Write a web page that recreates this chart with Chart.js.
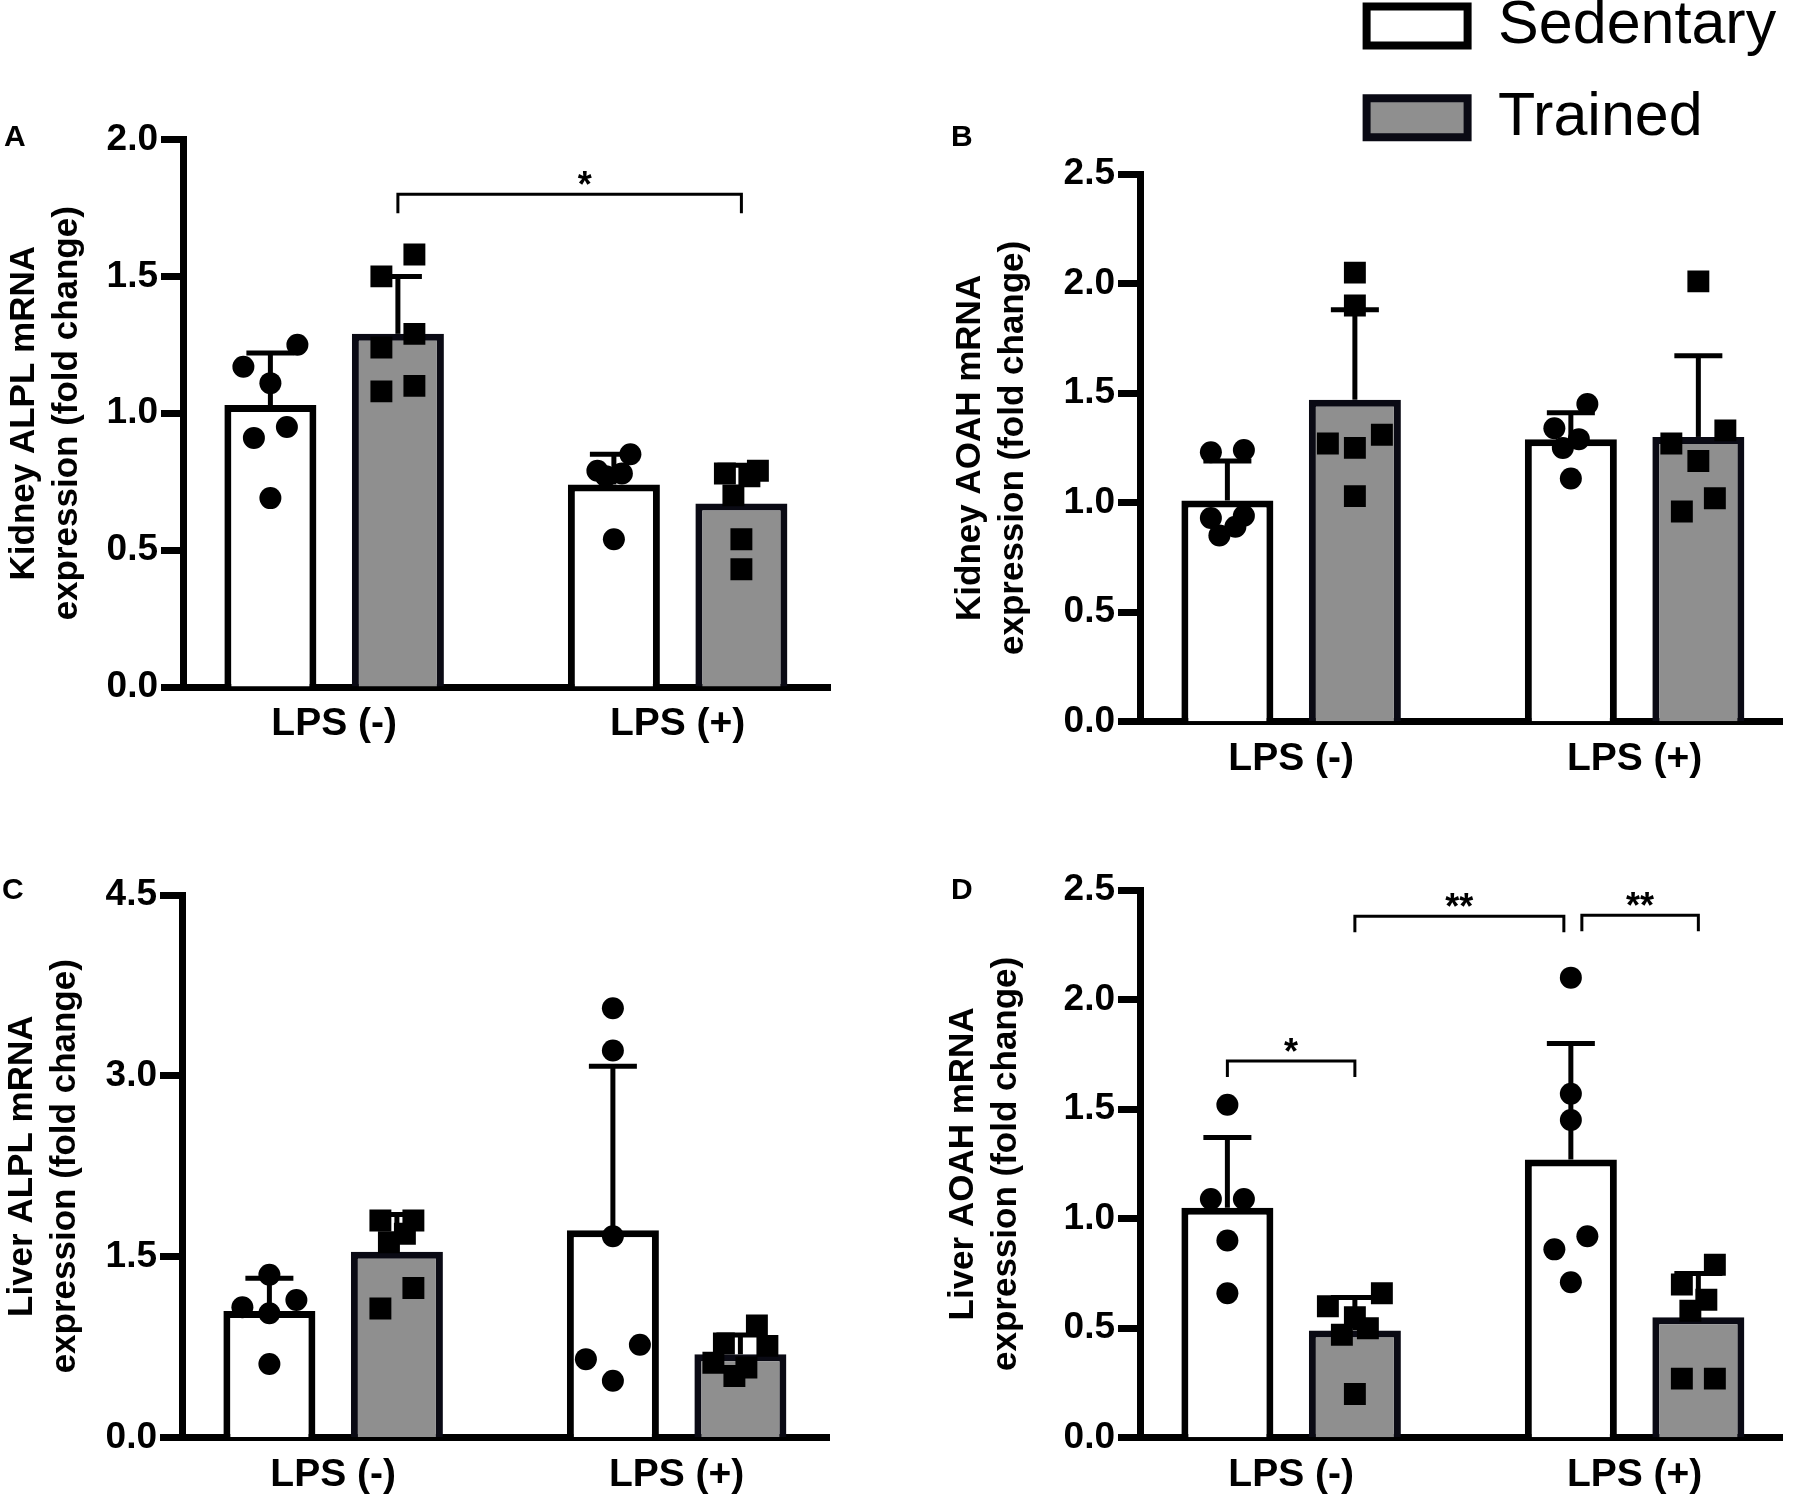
<!DOCTYPE html>
<html>
<head>
<meta charset="utf-8">
<script src="https://cdn.jsdelivr.net/npm/chart.js@4.4.1/dist/chart.umd.min.js"></script>
<style>
  html, body { margin: 0; padding: 0; background: #ffffff; width: 1801px; height: 1494px; overflow: hidden; }
  .panel { position: absolute; }
  #legendBox { pointer-events: none; }
</style>
</head>
<body>
<div class="panel" style="left:0px;top:100px;width:860px;height:660px"><canvas id="cA"></canvas></div>
<div class="panel" style="left:940px;top:100px;width:861px;height:684px"><canvas id="cB"></canvas></div>
<div class="panel" style="left:0px;top:840px;width:860px;height:654px"><canvas id="cC"></canvas></div>
<div class="panel" style="left:940px;top:840px;width:861px;height:654px"><canvas id="cD"></canvas></div>
<div class="panel" id="legendBox" style="left:1336px;top:-35px;width:465px;height:640px"><canvas id="cL"></canvas></div>
<script>
// ---------------- DATA ----------------
const groups = ['LPS (-)', 'LPS (+)'];
const seriesNames = ['Sedentary', 'Trained'];

// A - Kidney ALPL
const kidneyAlplTitle = ['Kidney ALPL mRNA', 'expression (fold change)'];
const kidneyAlplTicks = [0, 0.5, 1.0, 1.5, 2.0];
const kidneyAlplSedMean = [1.03, 0.74];
const kidneyAlplSedSD = [0.19, 0.11];
const kidneyAlplTrMean = [1.29, 0.67];
const kidneyAlplTrSD = [0.21, 0.14];
const kidneyAlplSedPts = [[1.25, 1.17, 1.11, 0.95, 0.91, 0.69], [0.85, 0.79, 0.78, 0.77, 0.54]];
const kidneyAlplTrPts = [[1.58, 1.50, 1.29, 1.24, 1.10, 1.08], [0.79, 0.78, 0.77, 0.70, 0.54, 0.43]];
const kidneyAlplSig = [{ from: [0, 1], to: [1, 1], y: 1.80, label: '*' }];

// B - Kidney AOAH
const kidneyAoahTitle = ['Kidney AOAH mRNA', 'expression (fold change)'];
const kidneyAoahTicks = [0, 0.5, 1.0, 1.5, 2.0, 2.5];
const kidneyAoahSedMean = [1.01, 1.29];
const kidneyAoahSedSD = [0.18, 0.12];
const kidneyAoahTrMean = [1.47, 1.30];
const kidneyAoahTrSD = [0.41, 0.37];
const kidneyAoahSedPts = [[1.24, 1.23, 0.94, 0.93, 0.89, 0.85], [1.45, 1.34, 1.29, 1.25, 1.11]];
const kidneyAoahTrPts = [[2.05, 1.90, 1.31, 1.27, 1.25, 1.03], [2.01, 1.33, 1.27, 1.19, 1.02, 0.96]];
const kidneyAoahSig = [];

// C - Liver ALPL
const liverAlplTitle = ['Liver ALPL mRNA', 'expression (fold change)'];
const liverAlplTicks = [0, 1.5, 3.0, 4.5];
const liverAlplSedMean = [1.05, 1.72];
const liverAlplSedSD = [0.27, 1.36];
const liverAlplTrMean = [1.54, 0.69];
const liverAlplTrSD = [0.31, 0.16];
const liverAlplSedPts = [[1.35, 1.14, 1.08, 1.03, 0.61], [3.56, 3.21, 1.67, 0.77, 0.65, 0.47]];
const liverAlplTrPts = [[1.80, 1.80, 1.69, 1.62, 1.24, 1.07], [0.93, 0.78, 0.76, 0.62, 0.58, 0.51]];
const liverAlplSig = [];

// D - Liver AOAH
const liverAoahTitle = ['Liver AOAH mRNA', 'expression (fold change)'];
const liverAoahTicks = [0, 0.5, 1.0, 1.5, 2.0, 2.5];
const liverAoahSedMean = [1.05, 1.27];
const liverAoahSedSD = [0.32, 0.53];
const liverAoahTrMean = [0.49, 0.55];
const liverAoahTrSD = [0.15, 0.20];
const liverAoahSedPts = [[1.52, 1.09, 1.09, 0.90, 0.66], [2.10, 1.57, 1.45, 0.92, 0.86, 0.71]];
const liverAoahTrPts = [[0.66, 0.60, 0.55, 0.50, 0.47, 0.20], [0.79, 0.70, 0.63, 0.58, 0.27, 0.27]];
const liverAoahSig = [
  { from: [0, 0], to: [0, 1], y: 1.72, label: '*' },
  { from: [0, 1], to: [1, 0], y: 2.38, label: '**' },
  { from: [1, 0], to: [1, 1], y: 2.385, label: '**' }
];

// ---------------- STYLE ----------------
const FONT = "'Liberation Sans', Arial, Helvetica, sans-serif";
Chart.defaults.font.family = FONT;
Chart.defaults.color = '#000';
const SED_FILL = '#ffffff', SED_BORDER = '#000000';
const TR_FILL = '#8f8f8f', TR_BORDER = '#0a0a14';
const CAT_PCT = 0.7424, BAR_PCT = 0.7216;
const X_MIN = -0.44;
const CLUSTER_PX = 25;
const SWARM = [[0], [0], [16.5, -16.5], [27, -27, 0], [16.5, -16.5, 8, -8], [27, -27, 0, 13, -13], [16.5, -16.5, 27, -27, 6, -6]];

function xForBar(g, s) { return g + (s === 0 ? -1 : 1) * CAT_PCT / 4; }

const errorBarPlugin = {
  id: 'errorBars',
  afterDatasetDraw(chart, args) {
    const meta = args.meta;
    if (meta.type !== 'bar') return;
    const ds = chart.data.datasets[args.index];
    if (!ds.sd) return;
    const ys = chart.scales.y, ctx = chart.ctx;
    ctx.save();
    ctx.strokeStyle = '#000'; ctx.lineWidth = 5; ctx.lineCap = 'butt';
    meta.data.forEach((el, i) => {
      const top = ys.getPixelForValue(ds.data[i].y + ds.sd[i]);
      ctx.beginPath(); ctx.moveTo(el.x, el.y); ctx.lineTo(el.x, top); ctx.stroke();
      ctx.beginPath(); ctx.moveTo(el.x - 24, top); ctx.lineTo(el.x + 24, top); ctx.stroke();
    });
    ctx.restore();
  }
};

const sigPlugin = {
  id: 'sigBrackets',
  afterDatasetsDraw(chart, args, opts) {
    const items = opts.items || [];
    if (!items.length) return;
    const ys = chart.scales.y, ctx = chart.ctx;
    const barX = (p) => chart.getDatasetMeta(p[1]).data[p[0]].x;
    const same = (a, b) => a[0] === b[0] && a[1] === b[1];
    ctx.save();
    ctx.strokeStyle = '#000'; ctx.fillStyle = '#000'; ctx.lineWidth = 3;
    ctx.font = 'bold 36px ' + FONT; ctx.textAlign = 'center'; ctx.textBaseline = 'alphabetic';
    items.forEach((it, k) => {
      let x1 = barX(it.from), x2 = barX(it.to);
      items.forEach((o, j) => {
        if (j === k || Math.abs(o.y - it.y) > 0.1) return;
        if (same(o.from, it.to)) x2 -= 7;
        if (same(o.to, it.from)) x1 += 11;
      });
      const yl = ys.getPixelForValue(it.y);
      const drop = opts.drop;
      ctx.beginPath();
      ctx.moveTo(x1, yl + drop); ctx.lineTo(x1, yl); ctx.lineTo(x2, yl); ctx.lineTo(x2, yl + drop);
      ctx.stroke();
      ctx.fillText(it.label, (x1 + x2) / 2 + (opts.labelShift || 0), yl + 3);
    });
    ctx.restore();
  }
};

const panelLabelPlugin = {
  id: 'panelLabel',
  afterDraw(chart, args, opts) {
    if (!opts.text) return;
    const ctx = chart.ctx;
    ctx.save();
    ctx.fillStyle = '#000'; ctx.font = 'bold 30px ' + FONT;
    ctx.textAlign = 'left'; ctx.textBaseline = 'alphabetic';
    ctx.fillText(opts.text, opts.x, opts.y);
    ctx.restore();
  }
};

function swarm(chart) {
  const xs = chart.scales.x, ys = chart.scales.y;
  const pxPerUnit = xs.getPixelForValue(1) - xs.getPixelForValue(0);
  chart.data.datasets.forEach(ds => {
    if (!ds.raw) return;
    const out = [];
    ds.raw.forEach((vals, g) => {
      const cx = xForBar(g, ds.series);
      const sorted = vals.slice().sort((a, b) => b - a);
      const clusters = [];
      let cur = [];
      sorted.forEach((v, i) => {
        if (i > 0 && Math.abs(ys.getPixelForValue(v) - ys.getPixelForValue(sorted[i - 1])) >= CLUSTER_PX) {
          clusters.push(cur); cur = [];
        }
        cur.push(v);
      });
      if (cur.length) clusters.push(cur);
      clusters.forEach(cl => {
        const offs = SWARM[Math.min(cl.length, SWARM.length - 1)];
        cl.forEach((v, i) => out.push({ x: cx + (offs[i % offs.length] || 0) / pxPerUnit, y: v }));
      });
    });
    ds.data = out;
  });
  chart.update('none');
}

function makePanel(id, cfg) {
  const chart = new Chart(document.getElementById(id), {
    type: 'bar',
    data: {
      datasets: [
        { type: 'bar', label: seriesNames[0], data: groups.map((g, i) => ({ x: i, y: cfg.sedMean[i] })), sd: cfg.sedSD,
          backgroundColor: SED_FILL, borderColor: SED_BORDER, borderWidth: 7, borderSkipped: 'bottom',
          categoryPercentage: CAT_PCT, barPercentage: BAR_PCT, order: 2 },
        { type: 'bar', label: seriesNames[1], data: groups.map((g, i) => ({ x: i, y: cfg.trMean[i] })), sd: cfg.trSD,
          backgroundColor: TR_FILL, borderColor: TR_BORDER, borderWidth: 7, borderSkipped: 'bottom',
          categoryPercentage: CAT_PCT, barPercentage: BAR_PCT, order: 2 },
        { type: 'scatter', label: seriesNames[0] + ' values', data: [], raw: cfg.sedPts, series: 0, showLine: false,
          pointStyle: 'circle', pointRadius: 11, pointBackgroundColor: '#000', pointBorderColor: '#000', pointBorderWidth: 0,
          backgroundColor: '#000', borderColor: '#000', order: 1 },
        { type: 'scatter', label: seriesNames[1] + ' values', data: [], raw: cfg.trPts, series: 1, showLine: false,
          pointStyle: 'rect', pointRadius: 15.5, pointBackgroundColor: '#000', pointBorderColor: '#000', pointBorderWidth: 0,
          backgroundColor: '#000', borderColor: '#000', order: 1 }
      ]
    },
    options: {
      responsive: true, maintainAspectRatio: false, animation: false, events: [],
      layout: { padding: { left: 0, right: cfg.padRight, top: cfg.padTop, bottom: 0 } },
      plugins: {
        legend: { display: false }, tooltip: { enabled: false },
        sigBrackets: { items: cfg.sig, drop: cfg.drop, labelShift: cfg.labelShift || 0 },
        panelLabel: { text: cfg.letter, x: cfg.letterX, y: cfg.letterY }
      },
      scales: {
        x: {
          type: 'linear', min: X_MIN, max: cfg.xMax, offset: false,
          grid: { display: false, drawTicks: false, offset: false },
          border: { display: true, width: 7, color: '#000' },
          afterBuildTicks: s => { s.ticks = groups.map((g, i) => ({ value: i })); },
          ticks: { callback: (v, i) => groups[i], font: { size: 39, weight: 'bold' }, color: '#000', padding: 14, autoSkip: false, maxRotation: 0 },
          afterFit: s => { s.height = cfg.xAxisH; }
        },
        y: {
          min: cfg.ticks[0], max: cfg.ticks[cfg.ticks.length - 1],
          afterBuildTicks: s => { s.ticks = cfg.ticks.map(v => ({ value: v })); },
          ticks: { callback: v => Number(v).toFixed(1), font: { size: 37, weight: 'bold' }, color: '#000', padding: 3, autoSkip: false },
          grid: { display: true, drawOnChartArea: false, drawTicks: true, tickLength: 22, tickWidth: 7, tickColor: '#000' },
          border: { display: true, width: 7, color: '#000' },
          title: { display: true, text: cfg.title, color: '#000', font: { size: 35, weight: 'bold', lineHeight: 1.23 }, padding: { top: cfg.titlePad, bottom: 0 } },
          afterFit: s => { s.width = cfg.yAxisW; }
        }
      }
    },
    plugins: [errorBarPlugin, sigPlugin, panelLabelPlugin]
  });
  swarm(chart);
  return chart;
}

makePanel('cA', { sedMean: kidneyAlplSedMean, sedSD: kidneyAlplSedSD, trMean: kidneyAlplTrMean, trSD: kidneyAlplTrSD,
  sedPts: kidneyAlplSedPts, trPts: kidneyAlplTrPts, sig: kidneyAlplSig, ticks: kidneyAlplTicks, title: kidneyAlplTitle,
  letter: 'A', letterX: 4, letterY: 46, yAxisW: 183, titlePad: 2.5, padRight: 29.5, padTop: 39.5, xAxisH: 73, drop: 19,
  xMax: 1.445, labelShift: 15 });
makePanel('cB', { sedMean: kidneyAoahSedMean, sedSD: kidneyAoahSedSD, trMean: kidneyAoahTrMean, trSD: kidneyAoahTrSD,
  sedPts: kidneyAoahSedPts, trPts: kidneyAoahTrPts, sig: kidneyAoahSig, ticks: kidneyAoahTicks, title: kidneyAoahTitle,
  letter: 'B', letterX: 11, letterY: 46, yAxisW: 200, titlePad: 8.5, padRight: 18.7, padTop: 74, xAxisH: 62.2, drop: 16,
  xMax: 1.43 });
makePanel('cC', { sedMean: liverAlplSedMean, sedSD: liverAlplSedSD, trMean: liverAlplTrMean, trSD: liverAlplTrSD,
  sedPts: liverAlplSedPts, trPts: liverAlplTrPts, sig: liverAlplSig, ticks: liverAlplTicks, title: liverAlplTitle,
  letter: 'C', letterX: 2, letterY: 59, yAxisW: 182, titlePad: 0.5, padRight: 30.5, padTop: 55, xAxisH: 56.5, drop: 16,
  xMax: 1.445 });
makePanel('cD', { sedMean: liverAoahSedMean, sedSD: liverAoahSedSD, trMean: liverAoahTrMean, trSD: liverAoahTrSD,
  sedPts: liverAoahSedPts, trPts: liverAoahTrPts, sig: liverAoahSig, ticks: liverAoahTicks, title: liverAoahTitle,
  letter: 'D', letterX: 11, letterY: 59, yAxisW: 200, titlePad: 1.5, padRight: 18.7, padTop: 50, xAxisH: 56.2, drop: 16,
  xMax: 1.43 });

// Legend
new Chart(document.getElementById('cL'), {
  type: 'bar',
  data: {
    datasets: [
      { label: seriesNames[0], data: [], backgroundColor: SED_FILL, borderColor: SED_BORDER, borderWidth: 8 },
      { label: seriesNames[1], data: [], backgroundColor: TR_FILL, borderColor: TR_BORDER, borderWidth: 8 }
    ]
  },
  options: {
    responsive: true, maintainAspectRatio: false, animation: false, events: [],
    layout: { padding: 0 },
    scales: { x: { display: false }, y: { display: false } },
    plugins: {
      tooltip: { enabled: false },
      legend: { display: true, position: 'top', align: 'start', maxHeight: 320,
        labels: { boxWidth: 101, boxHeight: 39, padding: 30.6, color: '#000', font: { size: 61, weight: 'normal' } } }
    }
  }
});
</script>
</body>
</html>
